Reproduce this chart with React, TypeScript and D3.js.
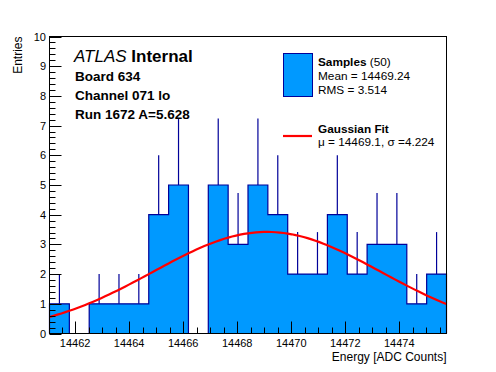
import * as d3 from 'd3';
import { useEffect, useRef } from 'react';

// histogram: 20 bins over the energy range
const xRange = [14461.05, 14475.75];
const counts = [1, 0, 1, 1, 1, 4, 5, 0, 5, 3, 5, 4, 2, 2, 4, 2, 3, 3, 1, 2];
const yTicks = [0, 1, 2, 3, 4, 5, 6, 7, 8, 9, 10];
const xTicks = [14462, 14464, 14466, 14468, 14470, 14472, 14474];

// gaussian fit parameters (from legend), peak height
const fitMu = 14469.1;
const fitSigma = 4.224;
const fitAmp = 3.42;

const infoLines = ['Board 634', 'Channel 071 lo', 'Run 1672 A=5.628'];

const FONT = '"Liberation Sans", Arial, Helvetica, sans-serif';
const FILL = '#0099ff';
const NAVY = '#000099';

export default function App() {
  const ref = useRef<SVGSVGElement | null>(null);

  useEffect(() => {
    if (!ref.current) return;
    const svg = d3.select(ref.current);
    svg.selectAll('*').remove();
    const width = 496;
    const height = 372;
    svg.attr('width', width).attr('height', height).attr('viewBox', `0 0 ${width} ${height}`);
    svg.append('rect').attr('width', width).attr('height', height).attr('fill', '#fff');

    const left = 49.5, right = 446.5, top = 36.5, bottom = 333.5;
    const x = d3.scaleLinear().domain(xRange).range([left, right]);
    const y = d3.scaleLinear().domain([0, 10]).range([bottom, top]);

    const bw = (xRange[1] - xRange[0]) / counts.length;
    const bins = counts.map((c, i) => ({ x0: xRange[0] + i * bw, x1: xRange[0] + (i + 1) * bw, c }));

    // step outline points
    const pts: [number, number][] = [[x(xRange[0]), y(0)]];
    bins.forEach((b) => {
      pts.push([x(b.x0), y(b.c)]);
      pts.push([x(b.x1), y(b.c)]);
    });
    pts.push([x(xRange[1]), y(0)]);

    // filled area (single path, no seams)
    svg
      .append('path')
      .attr('d', d3.line()(pts) + 'Z')
      .attr('fill', FILL)
      .attr('stroke', 'none');

    svg
      .append('path')
      .attr('d', d3.line()(pts))
      .attr('fill', 'none')
      .attr('stroke', NAVY)
      .attr('stroke-width', 1.2);

    // upper error bars
    svg
      .append('g')
      .selectAll('line')
      .data(bins.filter((b) => b.c > 0))
      .enter()
      .append('line')
      .attr('x1', (b) => x((b.x0 + b.x1) / 2))
      .attr('x2', (b) => x((b.x0 + b.x1) / 2))
      .attr('y1', (b) => y(b.c))
      .attr('y2', (b) => y(b.c + Math.sqrt(b.c)))
      .attr('stroke', NAVY)
      .attr('stroke-width', 1.2);

    // gaussian fit curve
    const gx = d3.range(0, 101).map((i) => xRange[0] + ((xRange[1] - xRange[0]) * i) / 100);
    const gauss = d3
      .line<number>()
      .x((v) => x(v))
      .y((v) => y(fitAmp * Math.exp(-0.5 * ((v - fitMu) / fitSigma) ** 2)));
    svg
      .append('path')
      .attr('d', gauss(gx))
      .attr('fill', 'none')
      .attr('stroke', '#ff0000')
      .attr('stroke-width', 2.2);

    // frame
    svg
      .append('rect')
      .attr('x', left)
      .attr('y', top)
      .attr('width', right - left)
      .attr('height', bottom - top)
      .attr('fill', 'none')
      .attr('stroke', '#000');

    // y axis ticks
    const yMinor = d3.range(0, 10.001, 0.2);
    svg
      .append('g')
      .selectAll('line')
      .data(yMinor)
      .enter()
      .append('line')
      .attr('x1', left)
      .attr('x2', (v) => left + (Math.abs(v - Math.round(v)) < 1e-6 ? 12 : 6))
      .attr('y1', (v) => Math.round(y(v)) + 0.5)
      .attr('y2', (v) => Math.round(y(v)) + 0.5)
      .attr('stroke', '#000');
    svg
      .append('g')
      .selectAll('text')
      .data(yTicks)
      .enter()
      .append('text')
      .attr('x', left - 3.5)
      .attr('y', (v) => y(v) + 4)
      .attr('text-anchor', 'end')
      .attr('font-family', FONT)
      .attr('font-size', 11)
      .text((v) => v);

    // x axis ticks
    const xMinor = d3.range(14461.5, xRange[1], 0.5);
    svg
      .append('g')
      .selectAll('line')
      .data(xMinor)
      .enter()
      .append('line')
      .attr('x1', (v) => Math.round(x(v)) + 0.5)
      .attr('x2', (v) => Math.round(x(v)) + 0.5)
      .attr('y1', bottom)
      .attr('y2', (v) => bottom - (Math.abs(v / 2 - Math.round(v / 2)) < 1e-6 ? 12 : 6))
      .attr('stroke', '#000');
    svg
      .append('g')
      .selectAll('text')
      .data(xTicks)
      .enter()
      .append('text')
      .attr('x', (v) => x(v))
      .attr('y', 347)
      .attr('text-anchor', 'middle')
      .attr('font-family', FONT)
      .attr('font-size', 11)
      .text((v) => v);

    // axis titles
    svg
      .append('text')
      .attr('x', right)
      .attr('y', 361)
      .attr('text-anchor', 'end')
      .attr('font-family', FONT)
      .attr('font-size', 12)
      .text('Energy [ADC Counts]');
    svg
      .append('text')
      .attr('transform', `translate(22, ${top}) rotate(-90)`)
      .attr('text-anchor', 'end')
      .attr('font-family', FONT)
      .attr('font-size', 12)
      .text('Entries');

    // ATLAS label
    const atlas = svg
      .append('text')
      .attr('x', 74)
      .attr('y', 62)
      .attr('font-family', FONT)
      .attr('font-size', 17);
    atlas.append('tspan').attr('font-style', 'italic').text('ATLAS');
    atlas.append('tspan').attr('font-weight', 'bold').text(' Internal');
    svg
      .append('g')
      .selectAll('text')
      .data(infoLines)
      .enter()
      .append('text')
      .attr('x', 75)
      .attr('y', (_, i) => 80.5 + i * 19)
      .attr('font-family', FONT)
      .attr('font-size', 13.5)
      .attr('font-weight', 'bold')
      .text((t) => t);

    // legend
    const lg = svg.append('g').attr('font-family', FONT).attr('font-size', 11.8);
    lg.append('rect')
      .attr('x', 283.5)
      .attr('y', 53.5)
      .attr('width', 29)
      .attr('height', 43)
      .attr('fill', FILL)
      .attr('stroke', NAVY);
    const s = lg.append('text').attr('x', 318).attr('y', 66);
    s.append('tspan').attr('font-weight', 'bold').text('Samples');
    s.append('tspan').text(' (50)');
    lg.append('text').attr('x', 318).attr('y', 80).text('Mean = 14469.24');
    lg.append('text').attr('x', 318).attr('y', 94).text('RMS = 3.514');
    lg.append('line')
      .attr('x1', 283)
      .attr('x2', 312)
      .attr('y1', 136)
      .attr('y2', 136)
      .attr('stroke', '#ff0000')
      .attr('stroke-width', 2.2);
    lg.append('text').attr('x', 318).attr('y', 132.5).attr('font-weight', 'bold').text('Gaussian Fit');
    lg.append('text').attr('x', 318).attr('y', 145.5).text('\u03bc = 14469.1, \u03c3 =4.224');
  }, []);

  return <svg ref={ref} style={{ position: 'absolute', left: 0, top: 0, display: 'block' }} />;
}
